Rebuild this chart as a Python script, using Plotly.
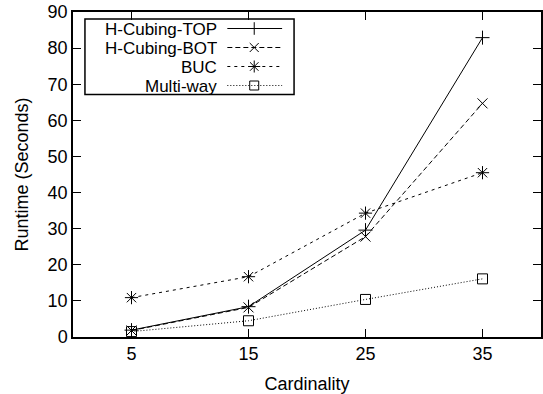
import plotly.graph_objects as go

# Cardinality levels and runtimes (seconds)
cardinality = [5, 15, 25, 35]
hcubing_top = [1.9, 8.4, 29.6, 82.9]
hcubing_bot = [1.8, 8.2, 27.8, 64.7]
buc = [10.9, 16.7, 34.3, 45.5]
multiway = [1.5, 4.5, 10.4, 16.1]

series_names = ["H-Cubing-TOP", "H-Cubing-BOT", "BUC", "Multi-way"]
series_values = [hcubing_top, hcubing_bot, buc, multiway]
dashes = ["solid", "5px,3px", "3px,4px", "1px,2px"]
symbols = ["cross-thin-open", "x-thin-open", "asterisk-open", "square-open"]
sizes = [10, 10, 11, 10]

FONT = "Liberation Sans, Arial, Helvetica, sans-serif"
FS = 18
FS_KEY = 17
W, H = 543, 394
ML, MR, MT, MB = 73, 0, 12, 57

fig = go.Figure()

for name, vals, dash, sym, sz in zip(series_names, series_values, dashes, symbols, sizes):
    fig.add_trace(go.Scatter(
        x=cardinality, y=vals, name=name, mode="lines+markers",
        line=dict(color="black", width=1, dash=dash),
        marker=dict(symbol=sym, size=sz, color="black", line=dict(color="black", width=1)),
        showlegend=False,
    ))

# Key drawn in pixel coordinates on an overlay axis pair
rows_y = [28.5, 47.5, 66.5, 85.5]
for name, dash, sym, sz, ry in zip(series_names, dashes, symbols, sizes, rows_y):
    fig.add_trace(go.Scatter(
        x=[228, 255, 283], y=[ry, ry, ry], mode="lines",
        line=dict(color="black", width=1, dash=dash),
        xaxis="x2", yaxis="y2", showlegend=False, hoverinfo="skip",
    ))
    fig.add_trace(go.Scatter(
        x=[255], y=[ry], mode="markers",
        marker=dict(symbol=sym, size=sz - 1, color="black", line=dict(color="black", width=1)),
        xaxis="x2", yaxis="y2", showlegend=False, hoverinfo="skip",
    ))
    fig.add_annotation(
        x=219, y=ry, xref="x2", yref="y2", text=name, showarrow=False,
        xanchor="right", yanchor="middle", height=18, borderpad=0,
        font=dict(family=FONT, size=FS_KEY, color="black"),
    )

fig.add_shape(type="rect", xref="x2", yref="y2", x0=85, x1=295, y0=19, y1=94.5,
              line=dict(color="black", width=1.5), fillcolor="rgba(0,0,0,0)")

axis_common = dict(
    showline=True, linecolor="black", linewidth=1.5, mirror="allticks",
    ticks="inside", ticklen=8, tickwidth=1, tickcolor="black",
    showgrid=False, zeroline=False,
    tickfont=dict(family=FONT, size=FS, color="black"),
)

fig.update_layout(
    width=W, height=H,
    margin=dict(l=ML, r=MR, t=MT, b=MB),
    paper_bgcolor="white", plot_bgcolor="white",
    font=dict(family=FONT, size=FS, color="black"),
    xaxis=dict(range=[0, 40], tickvals=cardinality, ticktext=[str(c) for c in cardinality],
               title=dict(text="Cardinality", font=dict(family=FONT, size=FS), standoff=14),
               **axis_common),
    yaxis=dict(range=[0, 90], tickvals=list(range(0, 91, 10)),
               title=dict(text="Runtime (Seconds)", font=dict(family=FONT, size=FS), standoff=14),
               **axis_common),
    xaxis2=dict(range=[ML, W - MR], overlaying="x", visible=False, fixedrange=True),
    yaxis2=dict(range=[H - MB, MT], overlaying="y", visible=False, fixedrange=True),
    showlegend=False,
)

fig.write_html("out.html")
